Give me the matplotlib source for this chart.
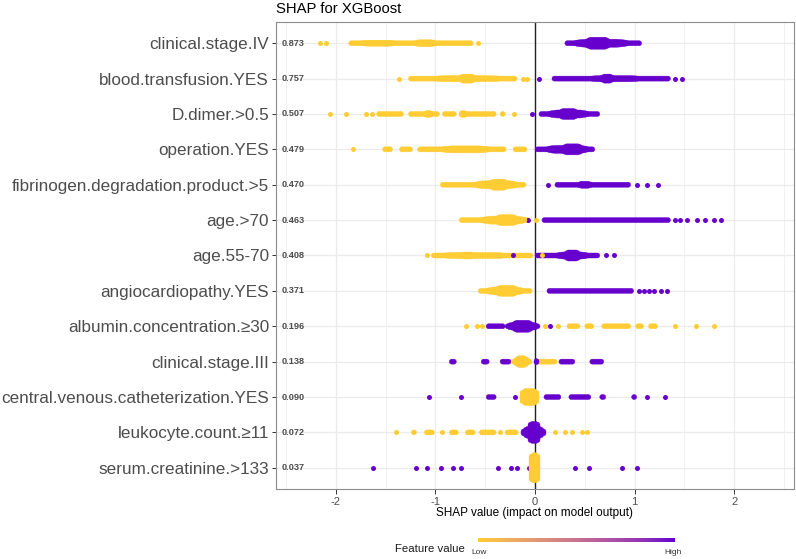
import numpy as np
import matplotlib
matplotlib.use("Agg")
import matplotlib.pyplot as plt
from matplotlib.patches import Polygon
from matplotlib.colors import LinearSegmentedColormap, to_rgb

plt.rcParams['font.family'] = ['Liberation Sans', 'DejaVu Sans']
plt.rcParams['axes.unicode_minus'] = False

# ----------------------------
# Data
# ----------------------------
features = [
    "clinical.stage.IV", "blood.transfusion.YES", "D.dimer.>0.5", "operation.YES",
    "fibrinogen.degradation.product.>5", "age.>70", "age.55-70", "angiocardiopathy.YES",
    "albumin.concentration.≥30", "clinical.stage.III", "central.venous.catheterization.YES",
    "leukocyte.count.≥11", "serum.creatinine.>133",
]
mean_abs = [0.873, 0.757, 0.507, 0.479, 0.470, 0.463, 0.408, 0.371,
            0.196, 0.138, 0.090, 0.072, 0.037]

# dense runs of points: (row, shap from, shap to, cloud thickness)
low_bands = [
    (0, -1.87, -0.62, 5), (0, -1.75, -1.40, 6), (0, -1.22, -0.98, 7),
    (1, -1.27, -0.18, 5), (1, -1.00, -0.35, 6), (1, -0.78, -0.58, 9),
    (2, -1.59, -1.32, 5), (2, -1.27, -0.96, 5), (2, -0.93, -0.79, 5), (2, -0.76, -0.39, 5),
    (2, -0.35, -0.30, 5), (2, -1.12, -1.02, 7), (2, -0.76, -0.68, 7),
    (3, -1.53, -1.43, 5), (3, -1.36, -1.23, 5), (3, -1.18, -0.29, 5), (3, -0.22, -0.08, 5),
    (3, -0.95, -0.45, 7),
    (4, -0.95, -0.09, 5), (4, -0.62, -0.15, 8), (4, -0.48, -0.25, 11),
    (5, -0.76, -0.05, 5), (5, -0.55, -0.08, 8), (5, -0.42, -0.15, 11),
    (6, -1.04, -0.02, 5), (6, -0.92, -0.30, 6), (6, -0.75, -0.60, 7),
    (7, -0.57, -0.03, 5), (7, -0.50, -0.10, 8), (7, -0.42, -0.15, 11),
    (8, 0.32, 0.45, 5), (8, 0.50, 0.59, 5), (8, 0.67, 0.96, 5), (8, 1.01, 1.09, 5),
    (8, 1.14, 1.23, 5),
    (9, 0.02, 0.22, 5), (9, -0.24, -0.03, 8), (9, -0.20, -0.07, 12),
    (10, -0.15, 0.04, 17),
    (11, -1.24, -1.19, 5), (11, -1.11, -1.01, 5), (11, -0.86, -0.77, 5), (11, -0.70, -0.60, 5),
    (11, -0.56, -0.39, 5), (11, -0.30, -0.17, 5),
    (12, -0.06, 0.05, 30),
]
high_bands = [
    (0, 0.30, 1.07, 5), (0, 0.38, 0.95, 8), (0, 0.48, 0.78, 12),
    (1, 0.17, 1.36, 5), (1, 0.55, 1.05, 6), (1, 0.65, 0.80, 9),
    (2, 0.04, 0.65, 5), (2, 0.12, 0.55, 8), (2, 0.22, 0.45, 11),
    (3, 0.00, 0.60, 5), (3, 0.10, 0.55, 8), (3, 0.25, 0.50, 11),
    (4, 0.20, 0.96, 5), (4, 0.42, 0.58, 7),
    (5, 0.07, 1.36, 5),
    (6, 0.00, 0.65, 5), (6, 0.20, 0.55, 7), (6, 0.28, 0.47, 11),
    (7, 0.12, 0.99, 5),
    (8, -0.49, -0.30, 5), (8, -0.30, 0.05, 8), (8, -0.25, 0.00, 12),
    (9, -0.86, -0.79, 5), (9, -0.54, -0.46, 5), (9, -0.35, -0.24, 5), (9, 0.00, 0.03, 6),
    (9, 0.24, 0.40, 5), (9, 0.55, 0.69, 5),
    (10, -0.49, -0.39, 5), (10, 0.09, 0.26, 5), (10, 0.34, 0.56, 5), (10, 0.65, 0.71, 5),
    (10, 0.97, 1.02, 5),
    (11, -0.14, 0.11, 12), (11, -0.07, 0.05, 22),
]

# isolated points: (row, shap)
low_dots = [
    (0, -2.16), (0, -2.10), (0, -0.57),
    (1, -1.37), (1, -0.12), (1, -0.08),
    (2, -2.06), (2, -1.90), (2, -1.70), (2, -1.64), (2, -0.21),
    (3, -1.83),
    (5, 0.01),
    (6, -1.08), (6, 0.07),
    (8, -0.69), (8, -0.58), (8, -0.53), (8, 0.10), (8, 0.23), (8, 1.41), (8, 1.62), (8, 1.80),
    (11, -1.40), (11, -0.93), (11, -0.35), (11, 0.20), (11, 0.30), (11, 0.37), (11, 0.47),
    (11, 0.52),
]
high_dots = [
    (1, 0.04), (1, 1.41), (1, 1.48),
    (2, -0.03),
    (4, 0.13), (4, 1.02), (4, 1.12), (4, 1.23),
    (5, -0.07), (5, 1.41), (5, 1.46), (5, 1.53), (5, 1.63), (5, 1.71), (5, 1.80), (5, 1.87),
    (6, -0.22), (6, 0.71), (6, 0.79),
    (7, 1.04), (7, 1.09), (7, 1.14), (7, 1.19), (7, 1.26), (7, 1.33),
    (8, 0.15),
    (10, -1.06), (10, -0.74), (10, -0.20), (10, 1.12), (10, 1.31),
    (12, -1.63), (12, -1.19), (12, -1.08), (12, -0.94), (12, -0.82), (12, -0.74), (12, -0.37),
    (12, -0.24), (12, -0.18), (12, -0.06), (12, 0.40), (12, 0.54), (12, 0.87), (12, 1.02),
]

x_ticks = [-2, -1, 0, 1, 2]
x_bound = 2.6

LOW = "#FFCC33"
HIGH = "#6600CC"


# ggplot-style gradient (interpolated in Lab space)
def srgb_to_lab(c):
    c = np.asarray(c, float)
    lin = np.where(c <= 0.04045, c / 12.92, ((c + 0.055) / 1.055) ** 2.4)
    M = np.array([[0.4124, 0.3576, 0.1805], [0.2126, 0.7152, 0.0722], [0.0193, 0.1192, 0.9505]])
    xyz = M @ lin / np.array([0.95047, 1.0, 1.08883])
    f = np.where(xyz > 0.008856, np.cbrt(xyz), 7.787 * xyz + 16 / 116)
    return np.array([116 * f[1] - 16, 500 * (f[0] - f[1]), 200 * (f[1] - f[2])])


def lab_to_srgb(lab):
    fy = (lab[0] + 16) / 116
    fx = fy + lab[1] / 500
    fz = fy - lab[2] / 200
    f = np.array([fx, fy, fz])
    xyz = np.where(f ** 3 > 0.008856, f ** 3, (f - 16 / 116) / 7.787) * np.array([0.95047, 1.0, 1.08883])
    Minv = np.array([[3.2406, -1.5372, -0.4986], [-0.9689, 1.8758, 0.0415], [0.0557, -0.2040, 1.0570]])
    lin = Minv @ xyz
    c = np.where(lin <= 0.0031308, 12.92 * lin, 1.055 * np.clip(lin, 0, None) ** (1 / 2.4) - 0.055)
    return np.clip(c, 0, 1)


lab_lo, lab_hi = srgb_to_lab(to_rgb(LOW)), srgb_to_lab(to_rgb(HIGH))
stops = [lab_to_srgb(lab_lo + t * (lab_hi - lab_lo)) for t in np.linspace(0, 1, 11)]
cmap = LinearSegmentedColormap.from_list("shap", stops)

# ----------------------------
# Figure
# ----------------------------
fig = plt.figure(figsize=(7.96, 5.59), dpi=100)
ax = fig.add_axes([276 / 796, 1 - 489 / 559, 518 / 796, 467 / 559])

n = len(features)
ax.set_xlim(-x_bound, x_bound)
ax.set_ylim(n - 0.4, -0.6)

ax.set_xticks(x_ticks)
ax.set_xticks([-2.5, -1.5, -0.5, 0.5, 1.5, 2.5], minor=True)
ax.set_yticks(range(n))
ax.set_yticklabels(features, fontsize=12.3, color="#4d4d4d")
ax.tick_params(axis="x", labelsize=8, labelcolor="#4d4d4d", color="#333333", length=3.5, width=0.7, pad=2)
ax.tick_params(axis="x", which="minor", length=0)
ax.tick_params(axis="y", color="#333333", length=3, width=0.7, pad=2)

ax.grid(True, which="major", color="#ebebeb", lw=0.9, zorder=0)
ax.grid(True, which="minor", axis="x", color="#ebebeb", lw=0.5, zorder=0)
ax.set_axisbelow(True)
for sp in ax.spines.values():
    sp.set_color("#8c8c8c")
    sp.set_linewidth(0.8)

ax.axvline(0, color="#222222", lw=1.0, zorder=1)

# pixel scales of the panel
px_x = 518 / (2 * x_bound)
px_y = 467 / (n - 0.4 + 0.6)
r = 2.5  # dot radius, px


def arc(cx, cy, a0, a1):
    t = np.radians(np.linspace(a0, a1, 8))
    return np.c_[cx + r * np.cos(t) / px_x, cy + r * np.sin(t) / px_y]


def band_outline(row, x0, x1, thick):
    # a run of overlapping dots: rounded corners, thickness tapering toward the ends
    xa = x0 + r / px_x
    xb = x1 - r / px_x
    if xb < xa:
        xa = xb = (x0 + x1) / 2
    length = (x1 - x0) * px_x
    p0 = np.clip(1.2 - 0.45 * length / thick, 0, 0.9)   # short, tall runs stay blocky
    u = np.linspace(0, 1, 40)
    xs = xa + u * (xb - xa)
    prof = p0 + (1 - p0) * np.clip(np.minimum(u, 1 - u) / 0.2, 0, 1) ** 0.5
    half = r + (thick / 2 - r) * prof
    he = half[0]
    top = np.c_[xs, row - half / px_y]
    bottom = np.c_[xs[::-1], row + half[::-1] / px_y]
    right = np.vstack([arc(xb, row - (he - r) / px_y, -90, 0),
                       arc(xb, row + (he - r) / px_y, 0, 90)])
    left = np.vstack([arc(xa, row + (he - r) / px_y, 90, 180),
                      arc(xa, row - (he - r) / px_y, 180, 270)])
    return np.vstack([top, right, bottom, left])


marks = [(b, LOW) for b in low_bands] + [(b, HIGH) for b in high_bands]
marks.sort(key=lambda m: m[0][3])
for (row, x0, x1, thick), col in marks:
    poly = Polygon(band_outline(row, x0, x1, thick), closed=True, fc=col, ec=col, lw=0.3,
                   zorder=2 + thick / 100)
    ax.add_patch(poly)

for dots, col in [(low_dots, LOW), (high_dots, HIGH)]:
    ax.scatter([d[1] for d in dots], [d[0] for d in dots], s=(2 * r * 0.72) ** 2,
               color=col, linewidths=0, zorder=2.055)

# mean |SHAP| labels
for i, v in enumerate(mean_abs):
    ax.annotate(f"{v:.3f}", xy=(-x_bound, i), xytext=(3.8, 0), textcoords="offset points",
                ha="left", va="center", fontsize=6.6, fontweight="bold", color="#4d4d4d")

fig.text(276 / 796, 1 - 12.7 / 559, "SHAP for XGBoost", fontsize=10.7, ha="left", va="baseline")
fig.text(535 / 796, 1 - 513 / 559, "SHAP value (impact on model output)", fontsize=8.5,
         ha="center", va="center")

# colour legend
cax = fig.add_axes([478 / 796, 1 - 542.5 / 559, 197 / 796, 5 / 559])
cax.imshow(np.linspace(0, 1, 256)[None, :], aspect="auto", cmap=cmap, extent=(0, 1, 0, 1))
cax.set_axis_off()
fig.text(465 / 796, 1 - 549 / 559, "Feature value", fontsize=8.2, ha="right", va="center",
         color="#1a1a1a")
fig.text(479 / 796, 1 - 553 / 559, "Low", fontsize=6, ha="center", va="center", color="#333333")
fig.text(673.5 / 796, 1 - 553 / 559, "High", fontsize=6, ha="center", va="center", color="#333333")

fig.savefig("out.png", dpi=100)
